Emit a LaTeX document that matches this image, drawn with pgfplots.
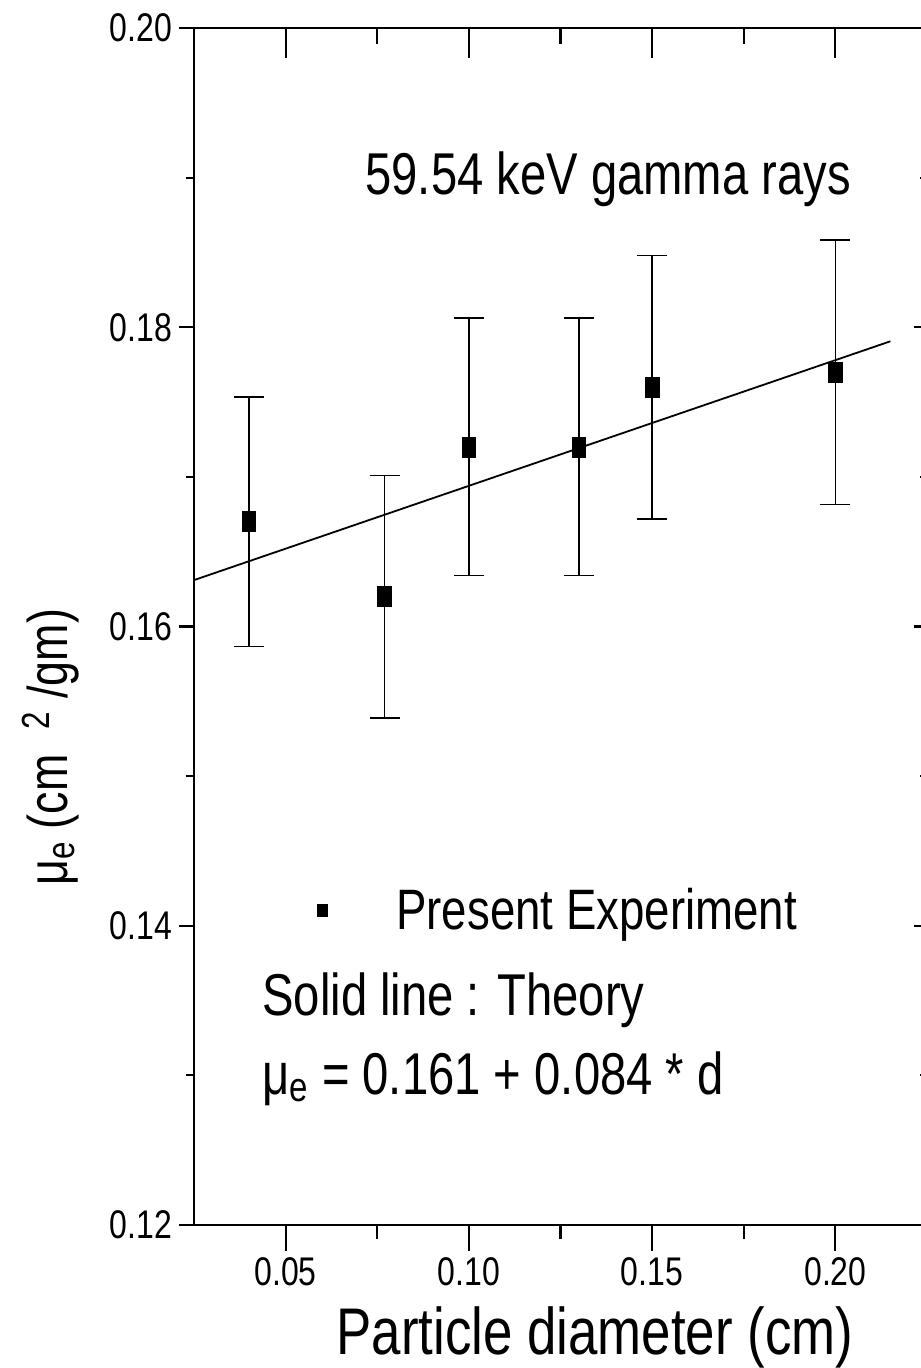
\documentclass[border=0pt]{standalone}
\usepackage{fontspec}
\setmainfont{Liberation Sans}[FakeStretch=0.8]
\usepackage{pgfplots}
\usepackage{pgfplotstable}
\pgfplotsset{compat=1.18}
\usetikzlibrary{calc}

% Measured attenuation coefficient with 5% error bars
\pgfplotstableread{
x      y      e
0.040  0.167  0.00835
0.077  0.162  0.0081
0.100  0.172  0.0086
0.130  0.172  0.0086
0.150  0.176  0.0088
0.200  0.177  0.00885
}\mudata

\begin{document}
\begin{tikzpicture}
\pgfplotsset{
  frame/.style={scale only axis, width=366.5pt, height=598.5pt,
    xmin=0.025, xmax=0.225, ymin=0.12, ymax=0.20,
    every tick/.style={black, line width=1.1pt},
    /pgf/number format/assume math mode=true,
    tick label style={font=\fontsize{20}{24}\selectfont},
    xticklabel style={/pgf/number format/.cd, fixed, fixed zerofill, precision=2},
    yticklabel style={/pgf/number format/.cd, fixed, fixed zerofill, precision=2},
  },
  bare/.style={frame, axis line style={draw=none}},
}
% main frame: data, bottom ticks and labels
\begin{axis}[frame, name=ax,
  axis line style={line width=1.4pt},
  xtick={0.05,0.10,0.15,0.20}, minor xtick={0.075,0.125,0.175},
  ytick=\empty,
  xtick pos=left, tick align=outside,
  major tick length=13pt, minor tick length=7pt,
  xlabel={Particle diameter (cm)},
  xlabel style={at={(axis description cs:0.547,-0.1086)}, anchor=base,
    font=\fontsize{33}{40}\selectfont},
  ylabel={μ\textsubscript{e} (cm\ \ \textsuperscript{2}\ /gm)},
  ylabel style={at={(axis description cs:-0.196,0.399)}, anchor=center,
    font=\fontsize{28}{34}\selectfont},
  legend style={draw=none, fill=none, inner sep=0pt,
    at={(axis description cs:0.1637,0.263)}, anchor=west,
    font=\fontsize{28.5}{34}\selectfont},
  legend image code/.code={
    \draw[mark=square*, mark size=3pt, mark options={xscale=0.8, fill=black}]
      plot coordinates {(4pt,0pt)};
    \path[draw=none] (0pt,0pt) -- (39pt,0pt);
  },
]
\addplot[line width=0.9pt, forget plot] coordinates {(0.025,0.1631) (0.215,0.17906)};
\addplot[only marks, mark=square*, mark size=5pt,
  mark options={xscale=0.68, fill=black},
  error bars/.cd, y dir=both, y explicit,
  error bar style={line width=0.8pt},
  error mark options={rotate=90, mark size=7.5pt, line width=0.8pt}]
  table[x=x, y=y, y error=e] {\mudata};
\addlegendentry{Present Experiment}

\node[anchor=base west, inner sep=0pt, font=\fontsize{29.5}{35}\selectfont]
  at (axis description cs:0.2333,0.8605) {59.54 keV gamma rays};
\node[anchor=base west, inner sep=0pt, font=\fontsize{29.5}{35}\selectfont]
  at (axis description cs:0.0928,0.1746) {Solid line : Theory};
\node[anchor=base west, inner sep=0pt, font=\fontsize{29.5}{35}\selectfont]
  at (axis description cs:0.0928,0.1094) {μ\textsubscript{e} = 0.161 + 0.084 * d};
\end{axis}

% left ticks and labels
\begin{axis}[bare,
  xtick=\empty,
  ytick={0.12,0.14,0.16,0.18,0.20}, minor ytick={0.13,0.15,0.17,0.19},
  ytick pos=left, tick align=outside,
  major tick length=7.5pt, minor tick length=4pt]
\end{axis}

% top ticks, pointing inward
\begin{axis}[bare,
  ytick=\empty,
  xtick={0.05,0.10,0.15,0.20}, minor xtick={0.075,0.125,0.175},
  xticklabels={}, xtick pos=right, tick align=inside,
  major tick length=15pt, minor tick length=8pt]
\end{axis}

% right ticks, pointing inward
\begin{axis}[bare,
  xtick=\empty,
  ytick={0.12,0.14,0.16,0.18,0.20}, minor ytick={0.13,0.15,0.17,0.19},
  yticklabels={}, ytick pos=right, tick align=inside,
  major tick length=6.5pt, minor tick length=3.5pt]
\end{axis}

\pgfresetboundingbox
\path[use as bounding box] ($(ax.south west)+(-97pt,-71.5pt)$)
  rectangle ($(ax.south west)+(363pt,612.5pt)$);
\end{tikzpicture}
\end{document}
